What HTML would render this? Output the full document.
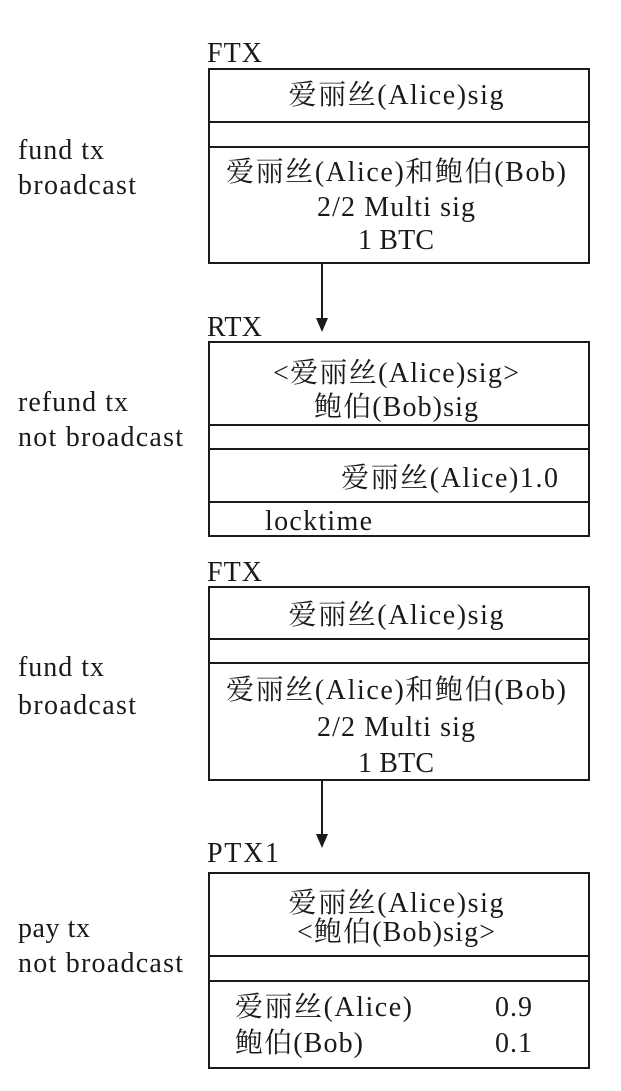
<!DOCTYPE html>
<html><head><meta charset="utf-8"><style>
html,body{margin:0;padding:0;background:#fff;}
svg{display:block;}
text{font-family:"Liberation Serif","Noto Serif CJK SC",serif;font-size:28px;fill:#1a1a1a;}
</style></head><body>
<svg width="621" height="1091" viewBox="0 0 621 1091" xmlns="http://www.w3.org/2000/svg">
<g stroke="#1a1a1a" stroke-width="2" fill="none">
<rect x="209" y="69" width="380" height="194"/>
<line x1="209" y1="122" x2="589" y2="122"/><line x1="209" y1="147" x2="589" y2="147"/>
<rect x="209" y="342" width="380" height="194"/>
<line x1="209" y1="425" x2="589" y2="425"/><line x1="209" y1="449" x2="589" y2="449"/><line x1="209" y1="502" x2="589" y2="502"/>
<rect x="209" y="587" width="380" height="193"/>
<line x1="209" y1="639" x2="589" y2="639"/><line x1="209" y1="663" x2="589" y2="663"/>
<rect x="209" y="873" width="380" height="195"/>
<line x1="209" y1="956" x2="589" y2="956"/><line x1="209" y1="981" x2="589" y2="981"/>
<line x1="322" y1="263" x2="322" y2="322"/>
<line x1="322" y1="780" x2="322" y2="838"/>
</g>
<polygon points="316,318 328,318 322,332" fill="#1a1a1a"/>
<polygon points="316,834 328,834 322,848" fill="#1a1a1a"/>
<text x="207" y="62" textLength="55">FTX</text>
<text x="207" y="336" textLength="55">RTX</text>
<text x="207" y="581" textLength="55">FTX</text>
<text x="207" y="862" textLength="72">PTX1</text>
<text x="18" y="159" textLength="86">fund tx</text><text x="18" y="194" textLength="118">broadcast</text>
<text x="18" y="411" textLength="110">refund tx</text><text x="18" y="446" textLength="165">not broadcast</text>
<text x="18" y="676" textLength="86">fund tx</text><text x="18" y="714" textLength="118">broadcast</text>
<text x="18" y="937" textLength="72">pay tx</text><text x="18" y="972" textLength="165">not broadcast</text>
<g text-anchor="middle">
<text x="396" y="104" textLength="215">爱丽丝(Alice)sig</text>
<text x="396" y="181" textLength="340">爱丽丝(Alice)和鲍伯(Bob)</text>
<text x="396" y="216" textLength="158">2/2 Multi sig</text>
<text x="396" y="249" textLength="76">1 BTC</text>
<text x="396" y="382" textLength="246">&lt;爱丽丝(Alice)sig&gt;</text>
<text x="396" y="416" textLength="164">鲍伯(Bob)sig</text>
<text x="396" y="624" textLength="215">爱丽丝(Alice)sig</text>
<text x="396" y="699" textLength="340">爱丽丝(Alice)和鲍伯(Bob)</text>
<text x="396" y="736" textLength="158">2/2 Multi sig</text>
<text x="396" y="772" textLength="76">1 BTC</text>
<text x="396" y="912" textLength="215">爱丽丝(Alice)sig</text>
<text x="396" y="941" textLength="198">&lt;鲍伯(Bob)sig&gt;</text>
</g>
<text x="341" y="487" textLength="217">爱丽丝(Alice)1.0</text>
<text x="265" y="530" textLength="107">locktime</text>
<text x="235" y="1016" textLength="177">爱丽丝(Alice)</text>
<text x="495" y="1016" textLength="37">0.9</text>
<text x="235" y="1052" textLength="128">鲍伯(Bob)</text>
<text x="495" y="1052" textLength="37">0.1</text>
</svg>
</body></html>
